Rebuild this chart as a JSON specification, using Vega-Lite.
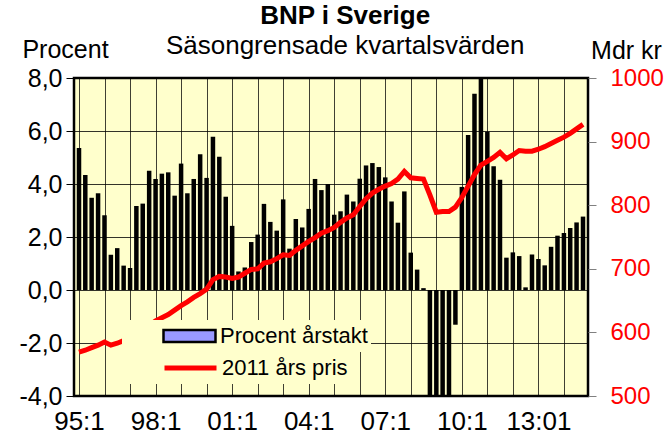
{
  "$schema": "https://vega.github.io/schema/vega-lite/v6.json",
  "autosize": {"type": "none"},
  "width": 514,
  "height": 318,
  "padding": {"left": 74, "top": 78, "right": 81, "bottom": 48},
  "background": "white",
  "title": {
    "text": "BNP i Sverige",
    "subtitle": "Säsongrensade kvartalsvärden",
    "font": "Liberation Sans",
    "fontSize": 26,
    "fontWeight": "bold",
    "color": "black",
    "subtitleFont": "Liberation Sans",
    "subtitleFontSize": 26,
    "subtitleColor": "black",
    "subtitlePadding": 4,
    "anchor": "middle",
    "frame": "bounds",
    "dx": 4,
    "offset": -22
  },
  "data": {
    "values": [
      {"kvartal": "1995-01-01", "procent": 5.36, "bnp": 569},
      {"kvartal": "1995-04-01", "procent": 4.34, "bnp": 572},
      {"kvartal": "1995-07-01", "procent": 3.48, "bnp": 576},
      {"kvartal": "1995-10-01", "procent": 3.65, "bnp": 580},
      {"kvartal": "1996-01-01", "procent": 2.82, "bnp": 585},
      {"kvartal": "1996-04-01", "procent": 1.33, "bnp": 580},
      {"kvartal": "1996-07-01", "procent": 1.58, "bnp": 583},
      {"kvartal": "1996-10-01", "procent": 0.92, "bnp": 587},
      {"kvartal": "1997-01-01", "procent": 0.83, "bnp": 591},
      {"kvartal": "1997-04-01", "procent": 3.17, "bnp": 596},
      {"kvartal": "1997-07-01", "procent": 3.26, "bnp": 603},
      {"kvartal": "1997-10-01", "procent": 4.5, "bnp": 611},
      {"kvartal": "1998-01-01", "procent": 4.19, "bnp": 618},
      {"kvartal": "1998-04-01", "procent": 4.39, "bnp": 623},
      {"kvartal": "1998-07-01", "procent": 4.44, "bnp": 628},
      {"kvartal": "1998-10-01", "procent": 3.56, "bnp": 635},
      {"kvartal": "1999-01-01", "procent": 4.77, "bnp": 642},
      {"kvartal": "1999-04-01", "procent": 3.65, "bnp": 648},
      {"kvartal": "1999-07-01", "procent": 4.19, "bnp": 655},
      {"kvartal": "1999-10-01", "procent": 5.12, "bnp": 661},
      {"kvartal": "2000-01-01", "procent": 4.23, "bnp": 668},
      {"kvartal": "2000-04-01", "procent": 5.78, "bnp": 683},
      {"kvartal": "2000-07-01", "procent": 5.03, "bnp": 688},
      {"kvartal": "2000-10-01", "procent": 3.52, "bnp": 687},
      {"kvartal": "2001-01-01", "procent": 2.42, "bnp": 685},
      {"kvartal": "2001-04-01", "procent": 0.7, "bnp": 687},
      {"kvartal": "2001-07-01", "procent": 0.85, "bnp": 693},
      {"kvartal": "2001-10-01", "procent": 1.81, "bnp": 699},
      {"kvartal": "2002-01-01", "procent": 2.09, "bnp": 700},
      {"kvartal": "2002-04-01", "procent": 3.25, "bnp": 709},
      {"kvartal": "2002-07-01", "procent": 2.57, "bnp": 711},
      {"kvartal": "2002-10-01", "procent": 2.24, "bnp": 716},
      {"kvartal": "2003-01-01", "procent": 3.42, "bnp": 722},
      {"kvartal": "2003-04-01", "procent": 1.56, "bnp": 721},
      {"kvartal": "2003-07-01", "procent": 2.68, "bnp": 729},
      {"kvartal": "2003-10-01", "procent": 2.36, "bnp": 736},
      {"kvartal": "2004-01-01", "procent": 3.06, "bnp": 743},
      {"kvartal": "2004-04-01", "procent": 4.19, "bnp": 749},
      {"kvartal": "2004-07-01", "procent": 3.77, "bnp": 756},
      {"kvartal": "2004-10-01", "procent": 4.0, "bnp": 760},
      {"kvartal": "2005-01-01", "procent": 2.84, "bnp": 765},
      {"kvartal": "2005-04-01", "procent": 2.97, "bnp": 773},
      {"kvartal": "2005-07-01", "procent": 3.6, "bnp": 780},
      {"kvartal": "2005-10-01", "procent": 3.34, "bnp": 785},
      {"kvartal": "2006-01-01", "procent": 4.2, "bnp": 798},
      {"kvartal": "2006-04-01", "procent": 4.7, "bnp": 810},
      {"kvartal": "2006-07-01", "procent": 4.79, "bnp": 819},
      {"kvartal": "2006-10-01", "procent": 4.64, "bnp": 825},
      {"kvartal": "2007-01-01", "procent": 4.25, "bnp": 830},
      {"kvartal": "2007-04-01", "procent": 3.34, "bnp": 834},
      {"kvartal": "2007-07-01", "procent": 2.54, "bnp": 841},
      {"kvartal": "2007-10-01", "procent": 3.72, "bnp": 853},
      {"kvartal": "2008-01-01", "procent": 1.41, "bnp": 843},
      {"kvartal": "2008-04-01", "procent": 0.77, "bnp": 842},
      {"kvartal": "2008-07-01", "procent": 0.07, "bnp": 841},
      {"kvartal": "2008-10-01", "procent": -4.6, "bnp": 816},
      {"kvartal": "2009-01-01", "procent": -6.4, "bnp": 789},
      {"kvartal": "2009-04-01", "procent": -6.0, "bnp": 790},
      {"kvartal": "2009-07-01", "procent": -5.1, "bnp": 790},
      {"kvartal": "2009-10-01", "procent": -1.31, "bnp": 797},
      {"kvartal": "2010-01-01", "procent": 3.89, "bnp": 812},
      {"kvartal": "2010-04-01", "procent": 5.85, "bnp": 830},
      {"kvartal": "2010-07-01", "procent": 7.41, "bnp": 848},
      {"kvartal": "2010-10-01", "procent": 8.3, "bnp": 863},
      {"kvartal": "2011-01-01", "procent": 5.97, "bnp": 869},
      {"kvartal": "2011-04-01", "procent": 4.67, "bnp": 875},
      {"kvartal": "2011-07-01", "procent": 4.16, "bnp": 883},
      {"kvartal": "2011-10-01", "procent": 1.22, "bnp": 873},
      {"kvartal": "2012-01-01", "procent": 1.42, "bnp": 879},
      {"kvartal": "2012-04-01", "procent": 1.28, "bnp": 886},
      {"kvartal": "2012-07-01", "procent": 0.1, "bnp": 885},
      {"kvartal": "2012-10-01", "procent": 1.34, "bnp": 885},
      {"kvartal": "2013-01-01", "procent": 1.17, "bnp": 888},
      {"kvartal": "2013-04-01", "procent": 0.93, "bnp": 892},
      {"kvartal": "2013-07-01", "procent": 1.63, "bnp": 897},
      {"kvartal": "2013-10-01", "procent": 2.05, "bnp": 902},
      {"kvartal": "2014-01-01", "procent": 2.15, "bnp": 907},
      {"kvartal": "2014-04-01", "procent": 2.34, "bnp": 913},
      {"kvartal": "2014-07-01", "procent": 2.55, "bnp": 920},
      {"kvartal": "2014-10-01", "procent": 2.77, "bnp": 927}
    ]
  },
  "encoding": {
    "x": {
      "field": "kvartal",
      "type": "temporal",
      "scale": {
        "type": "utc",
        "domain": [
          {"year": 1995, "month": 1, "date": 1, "utc": true},
          {"year": 2014, "month": 10, "date": 1, "utc": true}
        ],
        "nice": false
      },
      "axis": {
        "title": null,
        "tickCount": {"interval": "year", "step": 1},
        "labelExpr": "utcyear(datum.value) % 3 == 0 && utcmonth(datum.value) == 0 ? (utcyear(datum.value) == 2013 ? '13:01' : utcFormat(datum.value, '%y') + ':1') : ''",
        "labelFlush": false,
        "labelOverlap": false,
        "labelFont": "Liberation Sans",
        "labelFontSize": 26,
        "labelColor": "black",
        "labelPadding": 12,
        "ticks": false,
        "domain": false,
        "grid": true,
        "gridColor": "#000000",
        "gridOpacity": 0.75,
        "gridWidth": 1
      }
    }
  },
  "layer": [
    {
      "mark": {"type": "bar", "width": 4.5, "clip": true},
      "encoding": {
        "y": {
          "field": "procent",
          "type": "quantitative",
          "scale": {"domain": [-4, 8], "nice": false, "zero": false},
          "axis": {
            "orient": "left",
            "values": [-4, -2, 0, 2, 4, 6, 8],
            "labelExpr": "replace(replace(format(datum.value, '.1f'), '.', ','), '\u2212', '-')",
            "labelFont": "Liberation Sans",
            "labelFontSize": 25,
            "labelColor": "black",
            "labelPadding": 4,
            "tickSize": 8,
            "tickColor": "black",
            "domain": false,
            "grid": true,
            "gridColor": "#000000",
            "gridOpacity": 0.8,
            "gridWidth": 1,
            "title": "Procent",
            "titleAngle": 0,
            "titleAlign": "center",
            "titleBaseline": "alphabetic",
            "titleX": -9,
            "titleY": -21,
            "titleFont": "Liberation Sans",
            "titleFontSize": 25,
            "titleFontWeight": "normal",
            "titleColor": "black"
          }
        },
        "fill": {
          "field": "procent",
          "type": "quantitative",
          "scale": {"range": ["black", "black"]},
          "legend": null
        },
        "opacity": {
          "datum": "Procent årstakt",
          "type": "nominal",
          "scale": {"range": [1]},
          "legend": {
            "orient": "none",
            "legendX": 48,
            "legendY": 242,
            "title": null,
            "symbolType": "M-1,-0.23H1V0.23H-1Z",
            "symbolSize": 2704,
            "symbolFillColor": "#9999FF",
            "symbolStrokeColor": "black",
            "symbolStrokeWidth": 2.5,
            "symbolOffset": 37,
            "labelOffset": 3,
            "clipHeight": 26,
            "padding": 3,
            "fillColor": "#FFFFCC",
            "labelFont": "Liberation Sans",
            "labelFontSize": 22,
            "labelColor": "black"
          }
        }
      }
    },
    {
      "mark": {"type": "line", "strokeWidth": 5, "clip": true},
      "encoding": {
        "y": {
          "field": "bnp",
          "type": "quantitative",
          "scale": {"domain": [500, 1000], "nice": false, "zero": false},
          "axis": {
            "orient": "right",
            "values": [500, 600, 700, 800, 900, 1000],
            "format": "d",
            "labelFont": "Liberation Sans",
            "labelFontSize": 24,
            "labelColor": "#FF0000",
            "labelPadding": 14,
            "tickSize": 8,
            "tickColor": "#808080",
            "domain": false,
            "grid": false,
            "title": "Mdr kr",
            "titleAngle": 0,
            "titleAlign": "center",
            "titleBaseline": "alphabetic",
            "titleX": 38,
            "titleY": -20,
            "titleFont": "Liberation Sans",
            "titleFontSize": 25,
            "titleFontWeight": "normal",
            "titleColor": "black"
          }
        },
        "stroke": {
          "datum": "2011 års pris",
          "type": "nominal",
          "scale": {"range": ["#FF0000"]},
          "legend": {
            "orient": "none",
            "legendX": 48,
            "legendY": 274,
            "title": null,
            "symbolType": "stroke",
            "symbolSize": 2704,
            "symbolStrokeWidth": 5,
            "symbolOffset": 37,
            "labelOffset": 3,
            "clipHeight": 26,
            "padding": 3,
            "fillColor": "#FFFFCC",
            "labelFont": "Liberation Sans",
            "labelFontSize": 22,
            "labelColor": "black"
          }
        }
      }
    }
  ],
  "resolve": {"scale": {"y": "independent"}},
  "config": {
    "view": {"fill": "#FFFFCC", "stroke": "black", "strokeWidth": 2.5}
  }
}
